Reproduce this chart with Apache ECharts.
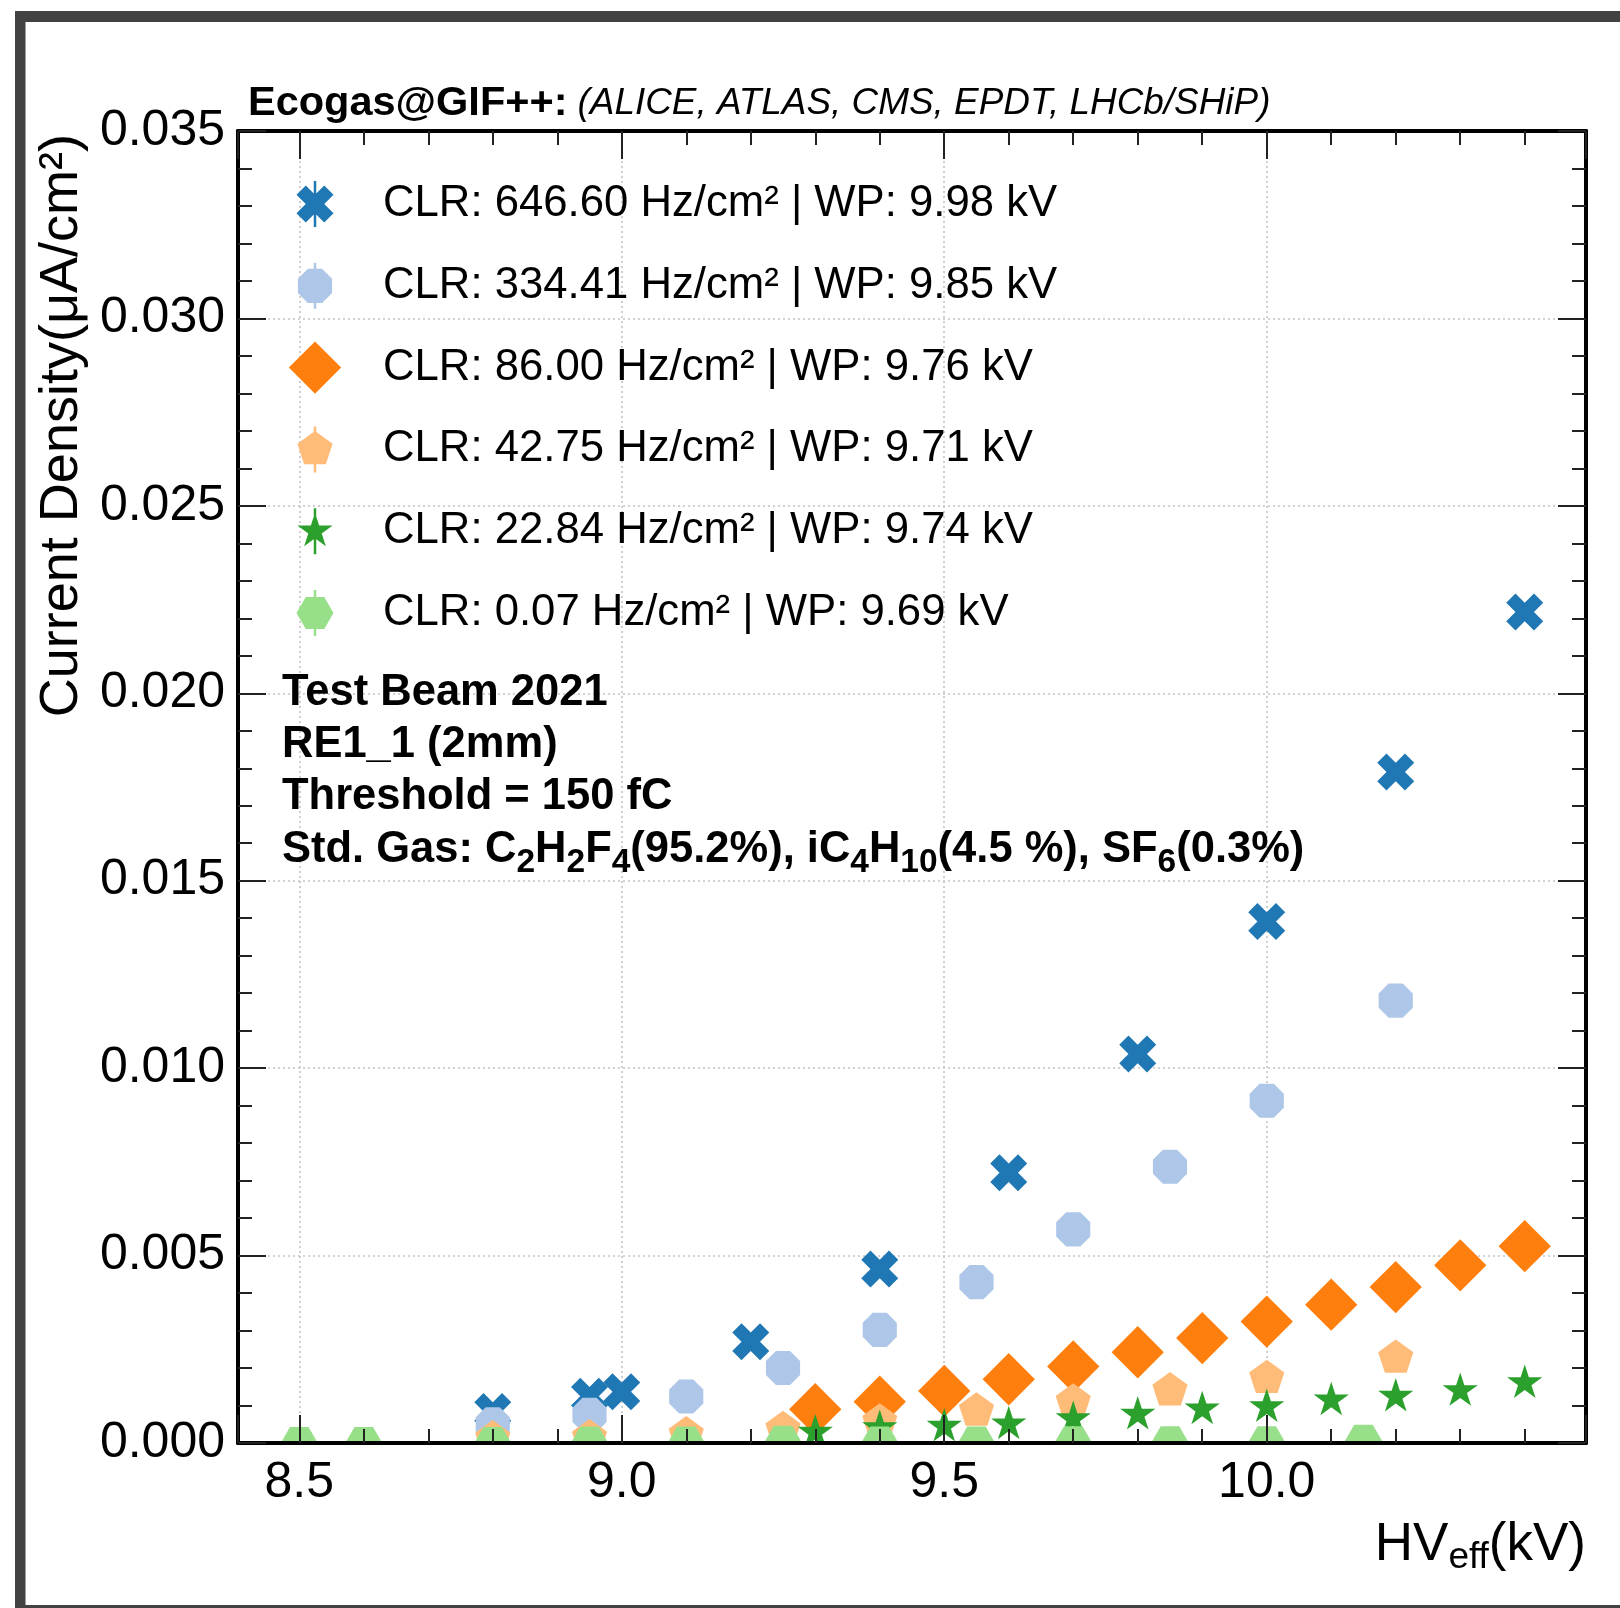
<!DOCTYPE html>
<html>
<head>
<meta charset="utf-8">
<script src="https://cdn.jsdelivr.net/npm/echarts@6/dist/echarts.min.js"></script>
<style>
  html, body { margin: 0; padding: 0; background: #ffffff; }
  #chart { width: 1620px; height: 1608px; }
</style>
</head>
<body>
<div id="chart"></div>
<script>
// Effective high voltage (kV) and measured current density (µA/cm²) for each source rate
const hv646 = [8.8, 8.95, 9.0, 9.2, 9.4, 9.6, 9.8, 10.0, 10.2, 10.4];
const cd646 = [0.00084, 0.00125, 0.00137, 0.0027, 0.00464, 0.00721, 0.01038, 0.01391, 0.0179, 0.02217];

const hv334 = [8.8, 8.95, 9.1, 9.25, 9.4, 9.55, 9.7, 9.85, 10.0, 10.2];
const cd334 = [0.0005, 0.00075, 0.00124, 0.002, 0.00302, 0.00429, 0.0057, 0.00737, 0.00913, 0.0118];

const hv86 = [9.3, 9.4, 9.5, 9.6, 9.7, 9.8, 9.9, 10.0, 10.1, 10.2, 10.3, 10.4];
const cd86 = [0.0009, 0.0011, 0.00139, 0.0017, 0.00204, 0.00242, 0.0028, 0.00324, 0.00369, 0.00416, 0.00474, 0.00525];

const hv42 = [8.8, 8.95, 9.1, 9.25, 9.4, 9.55, 9.7, 9.85, 10.0, 10.2];
const cd42 = [0.00012, 0.00015, 0.00023, 0.00037, 0.00057, 0.00086, 0.0011, 0.0014, 0.00173, 0.00227];

const hv22 = [9.3, 9.4, 9.5, 9.6, 9.7, 9.8, 9.9, 10.0, 10.1, 10.2, 10.3, 10.4];
const cd22 = [0.00028, 0.0004, 0.00044, 0.0005, 0.00064, 0.00076, 0.0009, 0.00096, 0.00114, 0.00124, 0.00139, 0.0016];

const hv007 = [8.5, 8.6, 8.8, 8.95, 9.1, 9.25, 9.4, 9.55, 9.7, 9.85, 10.0, 10.15];
const cd007 = [0, 0, 0, 0.00001, 0.00001, 0.00003, 0.00001, 0.00001, 0.00002, 0.00002, 0.00002, 0.00006];

const seriesLabels = [
  'CLR: 646.60 Hz/cm² | WP: 9.98 kV',
  'CLR: 334.41 Hz/cm² | WP: 9.85 kV',
  'CLR: 86.00 Hz/cm² | WP: 9.76 kV',
  'CLR: 42.75 Hz/cm² | WP: 9.71 kV',
  'CLR: 22.84 Hz/cm² | WP: 9.74 kV',
  'CLR: 0.07 Hz/cm² | WP: 9.69 kV'
];

// Axis ranges
const xRange = [8.405, 10.495];
const yRange = [0, 0.035];
const yStep = 0.005;

const FONT = 'Liberation Sans, Arial, Helvetica, sans-serif';
const MS = 37; // marker size (px)

// Marker outlines (offsets from the marker centre, in px)
function regular(n, start, rad) {
  const pts = [];
  for (let k = 0; k < n; k++) {
    const a = start + 2 * Math.PI * k / n;
    pts.push([rad * Math.cos(a), rad * Math.sin(a)]);
  }
  return pts;
}
function markerShape(kind) {
  const r = MS / 2;
  if (kind === 'x') {
    return [[-1,-2],[0,-1],[1,-2],[2,-1],[1,0],[2,1],[1,2],[0,1],[-1,2],[-2,1],[-1,0],[-2,-1]]
      .map(p => [p[0] * MS / 4, p[1] * MS / 4]);
  }
  if (kind === 'octagon') return regular(8, -Math.PI / 2 + Math.PI / 8, r);
  if (kind === 'diamond') {
    const d = MS * Math.SQRT1_2;
    return [[0, -d], [d, 0], [0, d], [-d, 0]];
  }
  if (kind === 'pentagon') return regular(5, -Math.PI / 2, r);
  if (kind === 'star') {
    const pts = [];
    for (let k = 0; k < 10; k++) {
      const a = -Math.PI / 2 + Math.PI * k / 5;
      const rad = k % 2 === 0 ? r : r * 0.381966;
      pts.push([rad * Math.cos(a), rad * Math.sin(a)]);
    }
    return pts;
  }
  if (kind === 'hexagon') return regular(6, 0, r);
  return [];
}
// keep every outline clockwise on screen so filled sub-paths merge
function clockwise(pts) {
  let s = 0;
  for (let i = 0; i < pts.length; i++) {
    const a = pts[i], b = pts[(i + 1) % pts.length];
    s += a[0] * b[1] - b[0] * a[1];
  }
  return s < 0 ? pts.slice().reverse() : pts;
}

// Legend icon: marker plus a short vertical error bar, inside a fixed 126 x 60 box
const ICON_W = 126, ICON_H = 60, BAR_H = 46, BAR_W = 2.5;
function legendIcon(kind) {
  const cx = ICON_W / 2, cy = ICON_H / 2;
  const pts = clockwise(markerShape(kind));
  let d = 'M0 0 M' + ICON_W + ' ' + ICON_H + ' ';
  d += 'M' + pts.map(p => (cx + p[0]).toFixed(2) + ' ' + (cy + p[1]).toFixed(2)).join(' L') + ' Z ';
  const bx = cx - BAR_W / 2, by = cy - BAR_H / 2;
  d += 'M' + bx + ' ' + by + ' L' + (bx + BAR_W) + ' ' + by + ' L' + (bx + BAR_W) + ' ' + (by + BAR_H) + ' L' + bx + ' ' + (by + BAR_H) + ' Z';
  return 'path://' + d;
}

const styles = [
  { kind: 'x', color: '#1f77b4' },
  { kind: 'octagon', color: '#aec7e8' },
  { kind: 'diamond', color: '#ff7f0e' },
  { kind: 'pentagon', color: '#ffbb78' },
  { kind: 'star', color: '#2ca02c' },
  { kind: 'hexagon', color: '#98df8a' }
];
const xs = [hv646, hv334, hv86, hv42, hv22, hv007];
const ys = [cd646, cd334, cd86, cd42, cd22, cd007];

function markerSeries(i) {
  const st = styles[i];
  const outline = markerShape(st.kind);
  return {
    name: seriesLabels[i],
    type: 'custom',
    xAxisIndex: 0,
    yAxisIndex: 0,
    clip: true,
    z: 2,
    itemStyle: { color: st.color },
    encode: { x: 0, y: 1 },
    data: xs[i].map((x, j) => [x, ys[i][j]]),
    renderItem: function (params, api) {
      const c = api.coord([api.value(0), api.value(1)]);
      return {
        type: 'polygon',
        shape: { points: outline.map(p => [c[0] + p[0], c[1] + p[1]]) },
        style: { fill: st.color }
      };
    }
  };
}

const tickLine = { color: '#222222', width: 2 };
const spine = { color: '#000000', width: 4 };
const labelFont = { fontFamily: FONT, fontSize: 50, color: '#000000' };
const gridLine = { color: '#c4c4c4', width: 1.6, type: [2, 3] };

function xFrameAxis(position, withLabels) {
  return {
    type: 'value', position: position, min: xRange[0], max: xRange[1], splitNumber: 4, z: 6,
    axisLine: { show: true, onZero: false, lineStyle: spine },
    axisTick: { show: true, inside: true, length: 28, lineStyle: tickLine },
    minorTick: { show: true, splitNumber: 5, length: 14, lineStyle: tickLine },
    axisLabel: withLabels ? Object.assign({
      show: true, margin: 15,
      formatter: v => (Math.abs(v * 2 - Math.round(v * 2)) < 1e-6 ? v.toFixed(1) : '')
    }, labelFont) : { show: false },
    splitLine: { show: false }
  };
}
function yFrameAxis(position, withLabels) {
  return {
    type: 'value', position: position, min: yRange[0], max: yRange[1], interval: yStep, z: 6,
    axisLine: { show: true, onZero: false, lineStyle: spine },
    axisTick: { show: true, inside: true, length: 28, lineStyle: tickLine },
    minorTick: { show: true, splitNumber: 5, length: 14, lineStyle: tickLine },
    axisLabel: withLabels ? Object.assign({
      show: true, margin: 13, formatter: v => v.toFixed(3)
    }, labelFont) : { show: false },
    splitLine: { show: false }
  };
}

const option = {
  animation: false,
  backgroundColor: '#ffffff',
  grid: { left: 238, right: 34, top: 131, bottom: 165, outerBoundsMode: 'none' },
  xAxis: [
    xFrameAxis('bottom', true),
    xFrameAxis('top', false),
    {
      type: 'value', position: 'bottom', min: xRange[0], max: xRange[1], splitNumber: 4, z: 0,
      axisLine: { show: false }, axisTick: { show: false }, axisLabel: { show: false },
      splitLine: { show: true, lineStyle: gridLine }
    }
  ],
  yAxis: [
    yFrameAxis('left', true),
    yFrameAxis('right', false),
    {
      type: 'value', position: 'left', min: yRange[0], max: yRange[1], interval: yStep, z: 0,
      axisLine: { show: false }, axisTick: { show: false }, axisLabel: { show: false },
      splitLine: { show: true, lineStyle: gridLine }
    }
  ],
  legend: {
    show: true,
    orient: 'vertical',
    left: 252,
    top: 174,
    padding: 0,
    itemWidth: ICON_W,
    itemHeight: ICON_H,
    itemGap: 21.8,
    selectedMode: false,
    itemStyle: { borderWidth: 0 },
    textStyle: { fontFamily: FONT, fontSize: 43.7, color: '#000000' },
    data: seriesLabels.map((name, i) => ({
      name: name,
      icon: legendIcon(styles[i].kind),
      itemStyle: { color: styles[i].color, borderWidth: 0 }
    }))
  },
  series: [0, 1, 2, 3, 4, 5].map(markerSeries),
  graphic: [
    // dark border around the figure
    { type: 'rect', silent: true, shape: { x: 15, y: 11, width: 1605, height: 11 }, style: { fill: '#424242' } },
    { type: 'rect', silent: true, shape: { x: 15, y: 11, width: 10.5, height: 1597 }, style: { fill: '#424242' } },
    { type: 'rect', silent: true, shape: { x: 15, y: 1605, width: 1605, height: 3 }, style: { fill: '#424242' } },
    // experiment label above the axes
    {
      type: 'text', x: 248, y: 104, z: 10,
      style: {
        text: '{b|Ecogas@GIF++:} {i|(ALICE, ATLAS, CMS, EPDT, LHCb/SHiP)}',
        fontFamily: FONT, fontSize: 36, fill: '#000000',
        align: 'left', verticalAlign: 'middle',
        rich: {
          b: { fontFamily: FONT, fontWeight: 'bold', fontSize: 41.5, fill: '#000000', lineHeight: 46, verticalAlign: 'middle' },
          i: { fontFamily: FONT, fontStyle: 'italic', fontSize: 36.9, fill: '#000000', lineHeight: 46, verticalAlign: 'middle' }
        }
      }
    },
    // run conditions
    {
      type: 'text', x: 282, y: 666.5, z: 10,
      style: {
        text: [
          '{b|Test Beam 2021}',
          '{b|RE1_1 (2mm)}',
          '{b|Threshold = 150 fC}',
          '{b|Std. Gas: C}{s|2}{b|H}{s|2}{b|F}{s|4}{b|(95.2%), iC}{s|4}{b|H}{s|10}{b|(4.5 %), SF}{s|6}{b|(0.3%)}'
        ].join('\n'),
        fontFamily: FONT, fontWeight: 'bold', fontSize: 43.5, fill: '#000000',
        align: 'left', verticalAlign: 'top',
        rich: {
          b: { fontFamily: FONT, fontWeight: 'bold', fontSize: 43.5, fill: '#000000', lineHeight: 52.3, verticalAlign: 'middle' },
          s: { fontFamily: FONT, fontWeight: 'bold', fontSize: 33.5, fill: '#000000', lineHeight: 52.3, verticalAlign: 'top', padding: [22, 0, 0, 0] }
        }
      }
    },
    // y-axis title
    {
      type: 'text', x: 62, y: 134, rotation: Math.PI / 2, z: 10,
      style: {
        text: 'Current Density(μA/cm²)',
        fontFamily: FONT, fontSize: 54, fill: '#000000',
        align: 'right', verticalAlign: 'middle'
      }
    },
    // x-axis title
    {
      type: 'text', x: 1586, y: 1515, z: 10,
      style: {
        text: '{n|HV}{s|eff}{n|(kV)}',
        fontFamily: FONT, fontSize: 53, fill: '#000000',
        align: 'right', verticalAlign: 'top',
        rich: {
          n: { fontFamily: FONT, fontSize: 53, fill: '#000000', lineHeight: 60, verticalAlign: 'middle' },
          s: { fontFamily: FONT, fontSize: 37, fill: '#000000', lineHeight: 60, verticalAlign: 'top', padding: [24, 0, 0, 0] }
        }
      }
    }
  ]
};

const chart = echarts.init(document.getElementById('chart'), null, { renderer: 'canvas' });
chart.setOption(option);
</script>
</body>
</html>
